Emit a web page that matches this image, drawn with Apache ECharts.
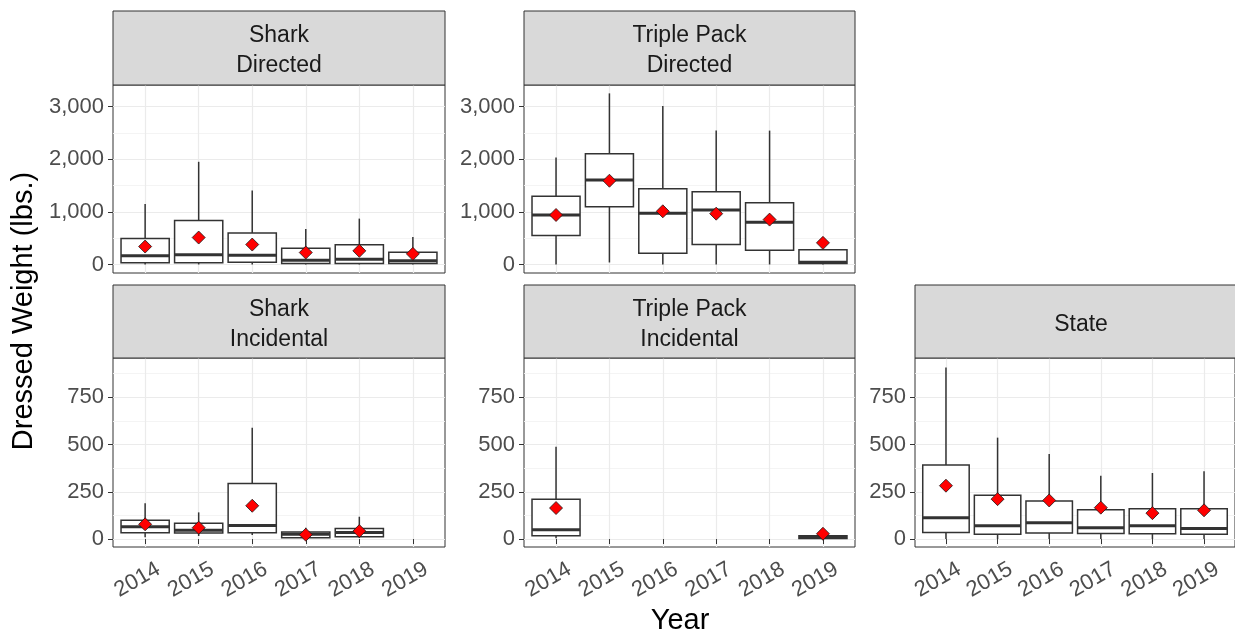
<!DOCTYPE html>
<html>
<head>
<meta charset="utf-8">
<script src="https://cdn.jsdelivr.net/npm/echarts@6/dist/echarts.min.js"></script>
<style>
  html, body { margin: 0; padding: 0; background: #ffffff; }
  #chart { width: 1235px; height: 637px; }
</style>
</head>
<body>
<div id="chart"></div>
<script>
// Categories and facet labels
const years = ['2014', '2015', '2016', '2017', '2018', '2019'];
const panelTitles = ['Shark\nDirected', 'Triple Pack\nDirected', 'Shark\nIncidental', 'Triple Pack\nIncidental', 'State'];

// Per-year box summaries: [lower whisker, Q1, median, Q3, upper whisker]; null = no trips
const sharkDirected = [[0, 32, 164, 493, 1150], [0, 32, 183, 834, 1952], [0, 44, 177, 600, 1408], [0, 19, 82, 310, 676], [0, 19, 101, 373, 872], [0, 19, 69, 234, 524]];
const sharkDirectedMean = [341, 512, 379, 227, 259, 202];

const triplePackDirected = [[0, 549, 941, 1295, 2034], [38, 1099, 1604, 2103, 3253], [0, 215, 973, 1440, 3013], [0, 379, 1036, 1383, 2545], [0, 272, 802, 1175, 2545], [0, 19, 44, 278, 278]];
const triplePackDirectedMean = [941, 1592, 1011, 966, 853, 411];

const sharkIncidental = [[9, 33, 65, 100, 189], [16, 32, 46, 83, 141], [21, 33, 72, 294, 588], [4, 7, 25, 37, 60], [7, 12, 35, 56, 118], null];
const sharkIncidentalMean = [78, 60, 176, 23, 42, null];

const triplePackIncidental = [[4, 18, 49, 211, 488], null, null, null, null, [2, 3, 9, 18, 22]];
const triplePackIncidentalMean = [164, null, null, null, null, 28];

const state = [[0, 35, 113, 391, 907], [0, 26, 70, 231, 536], [0, 32, 86, 201, 449], [0, 30, 60, 155, 335], [0, 28, 70, 160, 349], [0, 25, 56, 160, 358]];
const stateMean = [282, 211, 204, 166, 137, 152];

// Y tick labels (major) and minor grid positions for each row
const topRowTicks = [0, 1000, 2000, 3000];
const topRowMinor = [500, 1500, 2500];
const bottomRowTicks = [0, 250, 500, 750];
const bottomRowMinor = [125, 375, 625, 875];

const FONT = '"Liberation Sans", Arial, sans-serif';
const INK = '#333333';

const rows = [
  { top: 85, height: 188, stripTop: 11, min: -162, max: 3412, ticks: topRowTicks, minor: topRowMinor },
  { top: 358, height: 189, stripTop: 285, min: -42, max: 957, ticks: bottomRowTicks, minor: bottomRowMinor }
];
const cols = [{ left: 113, width: 332 }, { left: 524, width: 331 }, { left: 915, width: 332 }];

const panels = [
  { title: panelTitles[0], stats: sharkDirected, mean: sharkDirectedMean, row: 0, col: 0, showX: false },
  { title: panelTitles[1], stats: triplePackDirected, mean: triplePackDirectedMean, row: 0, col: 1, showX: false },
  { title: panelTitles[2], stats: sharkIncidental, mean: sharkIncidentalMean, row: 1, col: 0, showX: true },
  { title: panelTitles[3], stats: triplePackIncidental, mean: triplePackIncidentalMean, row: 1, col: 1, showX: true },
  { title: panelTitles[4], stats: state, mean: stateMean, row: 1, col: 2, showX: true }
];

const yearIdx = years.map((_, i) => i);
const fmtThousands = v => String(v).replace(/\B(?=(\d{3})+(?!\d))/g, ',');

function renderBox(params, api) {
  const x = api.value(0);
  const lo = api.coord([x, api.value(1)]);
  const q1 = api.coord([x, api.value(2)]);
  const md = api.coord([x, api.value(3)]);
  const q3 = api.coord([x, api.value(4)]);
  const hi = api.coord([x, api.value(5)]);
  const w = api.size([0.9, 0])[0];
  const cx = md[0];
  return {
    type: 'group',
    children: [
      { type: 'line', shape: { x1: cx, y1: hi[1], x2: cx, y2: q3[1] }, style: { stroke: INK, lineWidth: 1.5 } },
      { type: 'line', shape: { x1: cx, y1: q1[1], x2: cx, y2: lo[1] }, style: { stroke: INK, lineWidth: 1.5 } },
      { type: 'rect', shape: { x: cx - w / 2, y: q3[1], width: w, height: q1[1] - q3[1] }, style: { fill: '#ffffff', stroke: INK, lineWidth: 1.5 } },
      { type: 'line', shape: { x1: cx - w / 2, y1: md[1], x2: cx + w / 2, y2: md[1] }, style: { stroke: INK, lineWidth: 3 } }
    ]
  };
}

const grid = [], xAxis = [], yAxis = [], series = [], graphic = [];

panels.forEach((p, i) => {
  const r = rows[p.row], c = cols[p.col];
  grid.push({ left: c.left, top: r.top, width: c.width, height: r.height, show: true, borderColor: INK, borderWidth: 1, backgroundColor: '#ffffff' });

  xAxis.push({
    type: 'value', gridIndex: i, min: -0.6, max: 5.6,
    axisLine: { show: false },
    axisTick: { show: p.showX, customValues: yearIdx, length: 5, lineStyle: { color: INK, width: 1 } },
    axisLabel: {
      show: p.showX, customValues: yearIdx.map(v => v + 0.15),
      formatter: v => years[Math.round(v)],
      rotate: 30, align: 'right', verticalAlign: 'top', margin: 11,
      color: '#4d4d4d', fontSize: 22, fontFamily: FONT
    },
    splitLine: { show: true, lineStyle: { color: '#ebebeb', width: 1.2 } }
  });

  // minor horizontal grid
  yAxis.push({
    type: 'value', gridIndex: i, position: 'left', min: r.min, max: r.max,
    axisLine: { show: false },
    axisTick: { show: false, customValues: r.minor },
    axisLabel: { show: false },
    splitLine: { show: true, lineStyle: { color: '#f3f3f3', width: 0.9 } }
  });
  // major ticks, labels and grid
  yAxis.push({
    type: 'value', gridIndex: i, position: 'left', min: r.min, max: r.max,
    axisLine: { show: false },
    axisTick: { show: true, customValues: r.ticks, length: 5, lineStyle: { color: INK, width: 1 } },
    axisLabel: { customValues: r.ticks, formatter: fmtThousands, margin: 9, color: '#4d4d4d', fontSize: 22, fontFamily: FONT },
    splitLine: { show: true, lineStyle: { color: '#ebebeb', width: 1.2 } }
  });

  const boxData = [];
  p.stats.forEach((s, k) => { if (s) boxData.push([k].concat(s)); });
  const meanData = [];
  p.mean.forEach((m, k) => { if (m != null) meanData.push([k, m]); });

  series.push({
    type: 'custom', name: p.title, xAxisIndex: i, yAxisIndex: 2 * i + 1,
    renderItem: renderBox, encode: { x: 0, y: [1, 2, 3, 4, 5] }, data: boxData, z: 3, silent: true
  });
  series.push({
    type: 'scatter', name: p.title + ' mean', xAxisIndex: i, yAxisIndex: 2 * i + 1,
    symbol: 'diamond', symbolSize: 13, data: meanData, z: 5, silent: true,
    itemStyle: { color: '#ff0000', opacity: 1, borderColor: '#1a1a1a', borderWidth: 0.8 }
  });

  // facet strip
  graphic.push({
    type: 'rect', silent: true, z: 10,
    shape: { x: c.left, y: r.stripTop, width: c.width, height: r.top - r.stripTop },
    style: { fill: '#d9d9d9', stroke: INK, lineWidth: 1 }
  });
  graphic.push({
    type: 'text', silent: true, z: 11,
    x: c.left + c.width / 2, y: r.stripTop + (r.top - r.stripTop) / 2 + 3,
    style: { text: p.title, font: '23px ' + FONT, fill: '#1a1a1a', align: 'center', verticalAlign: 'middle', lineHeight: 30 }
  });
});

// axis titles
graphic.push({
  type: 'text', silent: true, x: 24, y: 311, rotation: Math.PI / 2,
  style: { text: 'Dressed Weight (lbs.)', font: '29px ' + FONT, fill: '#000000', align: 'center', verticalAlign: 'middle' }
});
graphic.push({
  type: 'text', silent: true, x: 680, y: 621,
  style: { text: 'Year', font: '29px ' + FONT, fill: '#000000', align: 'center', verticalAlign: 'middle' }
});

const chart = echarts.init(document.getElementById('chart'), null, { renderer: 'canvas' });
chart.setOption({
  animation: false,
  backgroundColor: '#ffffff',
  grid, xAxis, yAxis, series, graphic
});
</script>
</body>
</html>
